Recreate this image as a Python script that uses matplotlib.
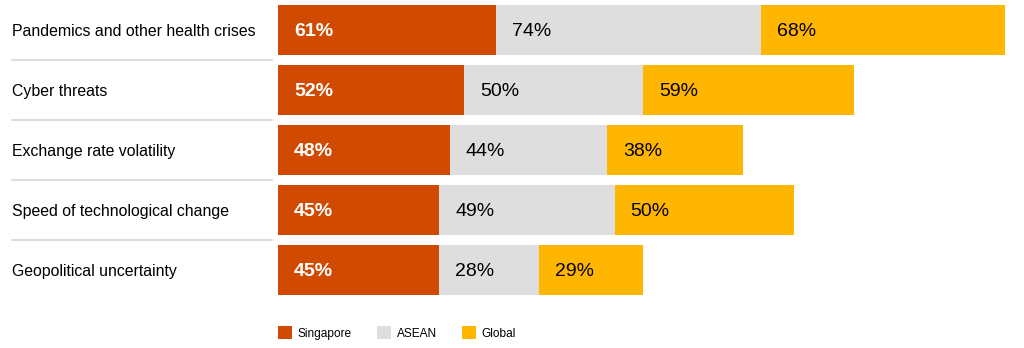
import matplotlib.pyplot as plt
from matplotlib.patches import Patch
from matplotlib.lines import Line2D

plt.rcParams['font.family'] = ['Liberation Sans', 'DejaVu Sans']

categories = ['Pandemics and other health crises', 'Cyber threats',
              'Exchange rate volatility', 'Speed of technological change',
              'Geopolitical uncertainty']
singapore = [61, 52, 48, 45, 45]
asean = [74, 50, 44, 49, 28]
glob = [68, 59, 38, 50, 29]

series = ['Singapore', 'ASEAN', 'Global']
colors = ['#D04A02', '#DEDEDE', '#FFB600']
text_colors = ['white', 'black', 'black']

W, H = 1024, 348
fig = plt.figure(figsize=(W / 100, H / 100), dpi=100)

# bar area: rows 60 px apart, top row starting at the top edge
ax = fig.add_axes([278 / W, 48 / H, (W - 278) / W, 300 / H])
ax.set_xlim(0, (W - 278) / 3.58)
ax.set_ylim(4.5, -0.5)
ax.axis('off')

ypos = list(range(len(categories)))
left = [0] * len(categories)
for vals, col, tcol in zip([singapore, asean, glob], colors, text_colors):
    ax.barh(ypos, vals, left=left, height=50 / 60, color=col, linewidth=0)
    for y, l, v in zip(ypos, left, vals):
        ax.annotate(f'{v}%', (l, y), xytext=(11.5, -1.2), textcoords='offset points',
                    ha='left', va='center', fontsize=14, color=tcol,
                    fontweight='semibold' if tcol == 'white' else 'normal')
    left = [a + b for a, b in zip(left, vals)]

# category labels and separators on the left
lab = fig.add_axes([0, 48 / H, 278 / W, 300 / H])
lab.set_xlim(0, 278)
lab.set_ylim(4.5, -0.5)
lab.axis('off')
for y, name in zip(ypos, categories):
    lab.annotate(name, (12, y), xytext=(0, -1.2), textcoords='offset points',
                 ha='left', va='center', fontsize=11.45, color='black')
    if y < len(categories) - 1:
        lab.add_line(Line2D([12, 272], [y + 0.5, y + 0.5], color='#D6D6D6', lw=1.2))

handles = [Patch(facecolor=c, edgecolor='none', label=s) for s, c in zip(series, colors)]
fig.legend(handles=handles, loc='center left', bbox_to_anchor=(278 / W, 15 / H),
           ncol=3, frameon=False, fontsize=8.6, borderpad=0, borderaxespad=0,
           handlelength=1.2, handleheight=1.2, handletextpad=0.45, columnspacing=2.1)

fig.savefig('out.png', dpi=100, facecolor='white')
